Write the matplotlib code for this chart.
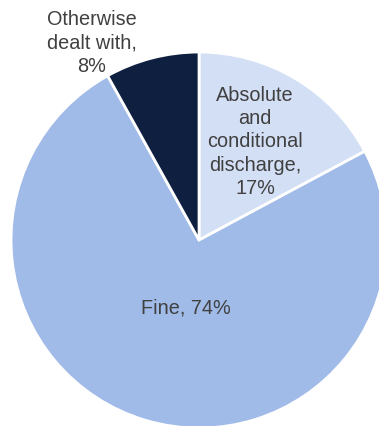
import matplotlib.pyplot as plt

labels = ["Absolute\nand\nconditional\ndischarge,\n17%", "Fine, 74%", "Otherwise\ndealt with,\n8%"]
shares = [17, 74, 8]
colors = ["#D3DFF5", "#A1BBE8", "#0F1F3F"]
label_pos = [(0.298, 0.527), (-0.069, -0.356), (-0.569, 1.053)]

plt.rcParams["font.family"] = ["Liberation Sans", "DejaVu Sans"]

fig = plt.figure(figsize=(3.79, 4.27), dpi=100)
ax = fig.add_axes([0, 0, 1, 1])
ax.pie(
    shares,
    colors=colors,
    startangle=90,
    counterclock=False,
    radius=1.0,
    wedgeprops={"edgecolor": "white", "linewidth": 2.0},
)
for text, (x, y) in zip(labels, label_pos):
    ax.text(x, y, text, ha="center", va="center", fontsize=14.3,
            color="#404040", linespacing=1.29)

ax.set_xlim(-1.0585, 0.957)
ax.set_ylim(-0.989, 1.282)
ax.set_aspect("equal")
ax.axis("off")
fig.savefig("out.png", dpi=100)
